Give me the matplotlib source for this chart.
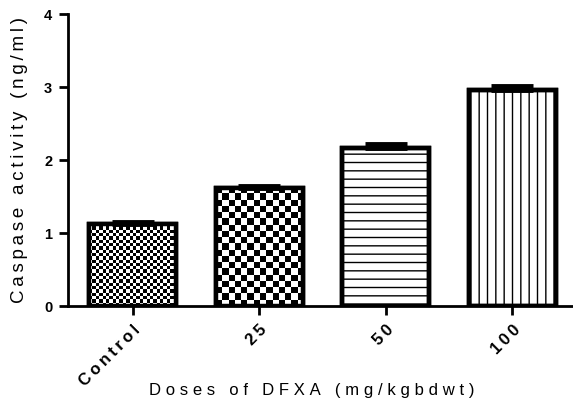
import numpy as np
import matplotlib
matplotlib.use('Agg')
import matplotlib.pyplot as plt

# Caspase activity per dose group
groups = ['Control', '25', '50', '100']
caspase = [1.13, 1.62, 2.17, 2.96]
caspase_err = [0.02, 0.02, 0.05, 0.06]

plt.rcParams['font.family'] = ['Liberation Sans', 'DejaVu Sans']
plt.rcParams['hatch.linewidth'] = 1.0

WIDE = '\u2009\u200a'


def spaced(text, gap='\u2009'):
    return gap.join(text)


def checker_fill(ax, bar, cell_px):
    """Fill a bar with a black/white checkerboard clipped to the bar."""
    x0, y0 = bar.get_x(), bar.get_y()
    x1, y1 = x0 + bar.get_width(), y0 + bar.get_height()
    (px0, py0), (px1, py1) = ax.transData.transform([(x0, y0), (x1, y1)])
    nx = max(1, int(round((px1 - px0) / cell_px)))
    ny = max(1, int(round((py1 - py0) / cell_px)))
    board = (np.add.outer(np.arange(ny), np.arange(nx)) % 2).astype(float)
    img = ax.imshow(board, cmap='gray', extent=(x0, x1, y0, y1), origin='lower',
                    aspect='auto', interpolation='nearest', zorder=2.5)
    img.set_clip_path(bar)


fig = plt.figure(figsize=(5.73, 4.05), dpi=100)
ax = fig.add_axes([0.119, 0.244, 0.881, 0.721])

x = np.arange(len(groups))
ax.set_xlim(-0.51, 3.48)
ax.set_ylim(0, 4)

hatches = [None, None, '--', '||']
bars = ax.bar(x, caspase, width=0.69, color='white', edgecolor='black',
              linewidth=3.2, zorder=2)
for b, h in zip(bars, hatches):
    if h:
        b.set_hatch(h)

checker_fill(ax, bars[0], 3.3)
checker_fill(ax, bars[1], 6.2)
ax.set_xlim(-0.51, 3.48)
ax.set_ylim(0, 4)

# outlines on top of the pattern fills
ax.bar(x, caspase, width=0.69, fill=False, edgecolor='black', linewidth=3.2, zorder=3)

ax.errorbar(x, caspase, yerr=[np.zeros(len(x)), caspase_err], fmt='none',
            ecolor='black', elinewidth=2.5, capsize=15, capthick=3.5, zorder=4)

for side in ['top', 'right']:
    ax.spines[side].set_visible(False)
for side in ['left', 'bottom']:
    ax.spines[side].set_linewidth(2)

ax.set_yticks([0, 1, 2, 3, 4])
ax.set_xticks(x)
ax.set_xticklabels([spaced(g) for g in groups], rotation=45, ha='right',
                   rotation_mode='anchor', fontweight='bold', fontsize=12)
for lbl in ax.get_yticklabels():
    lbl.set_fontweight('bold')
    lbl.set_fontsize(10.5)
ax.tick_params(axis='both', length=6.5, width=2)
ax.tick_params(axis='y', pad=5)
ax.tick_params(axis='x', pad=5)

ax.set_ylabel(spaced('Caspase activity (ng/ml)'), fontsize=13.5)
ax.yaxis.set_label_coords(-0.08, 0.5)
ax.set_xlabel(spaced('Doses of DFXA (mg/kgbdwt)', WIDE), fontsize=12)
ax.xaxis.set_label_coords(0.483, -0.262)

fig.savefig('out.png', dpi=100)
